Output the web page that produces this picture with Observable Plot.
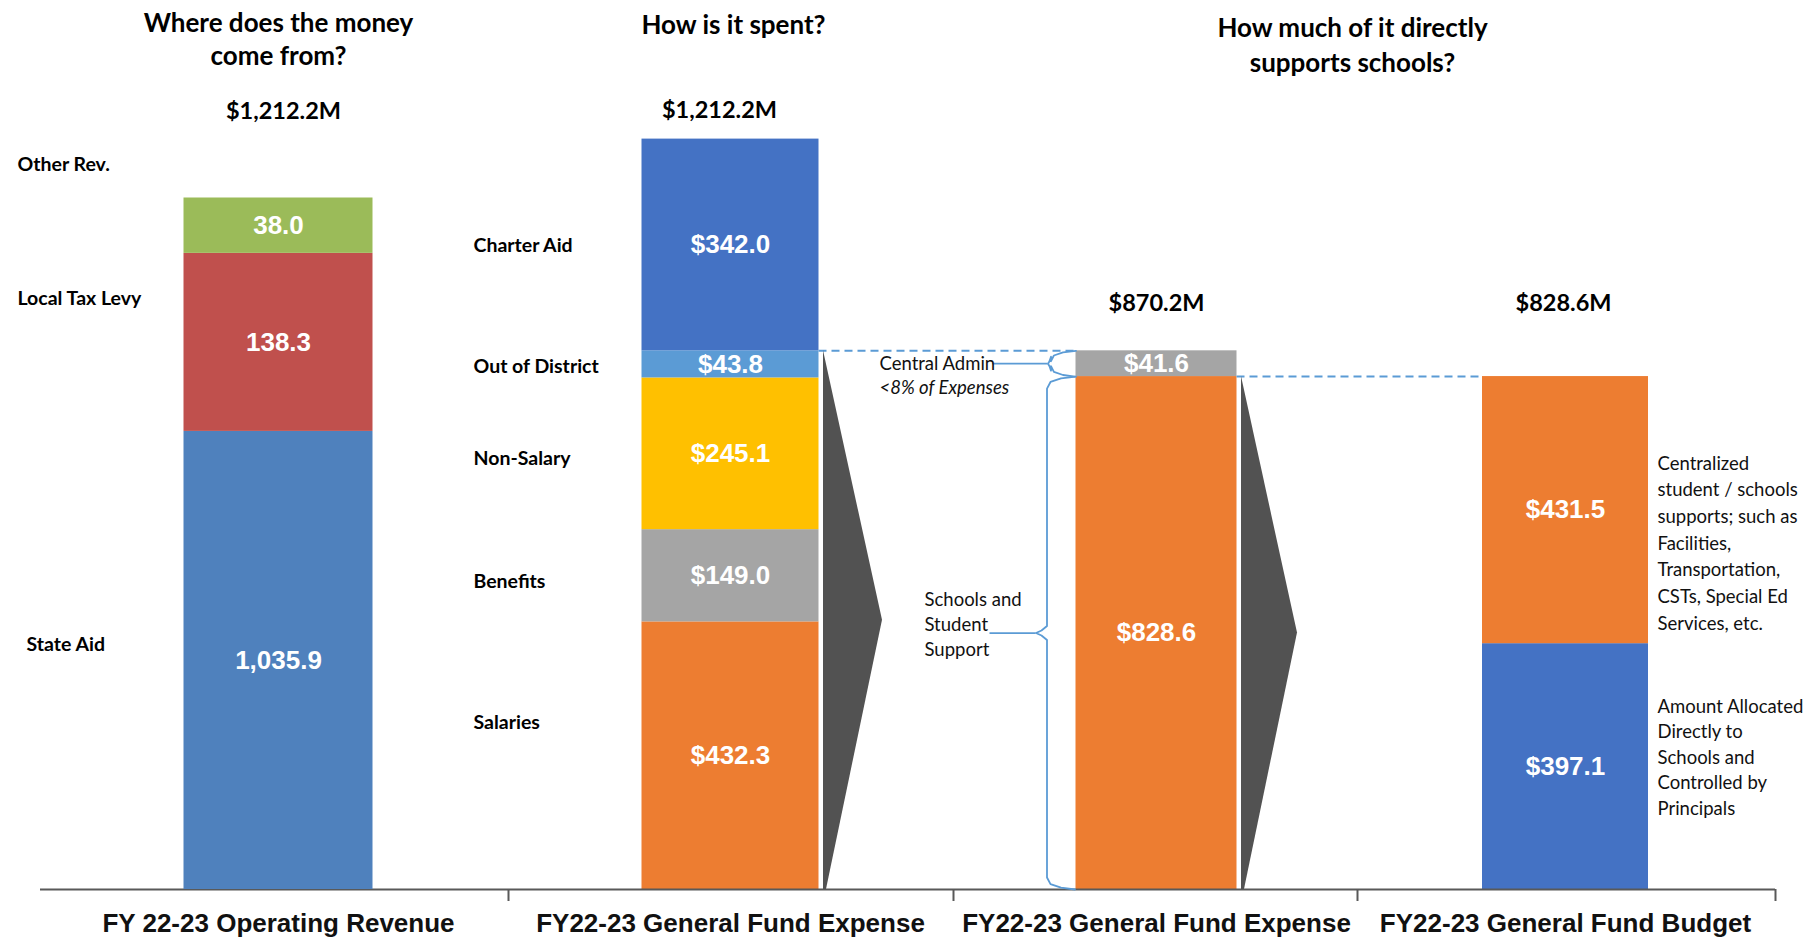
<!DOCTYPE html>
<html>
<head>
<meta charset="utf-8">
<script src="https://cdn.jsdelivr.net/npm/d3@7"></script>
<script src="https://cdn.jsdelivr.net/npm/@observablehq/plot@0.6"></script>
<style>
  html, body { margin: 0; padding: 0; background: #fff; }
  #chart { position: relative; width: 1811px; height: 937px; }
  #chart svg { position: absolute; left: 0; top: 0; overflow: visible; }
</style>
</head>
<body>
<div id="chart"></div>
<script>
// ---------------- DATA ----------------
const columnLabels = ["FY 22-23 Operating Revenue", "FY22-23 General Fund Expense", "FY22-23 General Fund Expense", "FY22-23 General Fund Budget"];
const questions = ["Where does the money\ncome from?", "How is it spent?", "How much of it directly\nsupports schools?"];

const revenueSources = ["State Aid", "Local Tax Levy", "Other Rev."];
const revenueValues = [1035.9, 138.3, 38.0];

const expenseCategories = ["Salaries", "Benefits", "Non-Salary", "Out of District", "Charter Aid"];
const expenseValues = [432.3, 149.0, 245.1, 43.8, 342.0];

const generalFundParts = ["Schools and Student Support", "Central Admin"];
const generalFundValues = [828.6, 41.6];

const budgetParts = ["Allocated Directly to Schools", "Centralized Supports"];
const budgetValues = [397.1, 431.5];

const centralAdminNote = ["Central Admin", "<8% of Expenses"];
const schoolsNote = "Schools and\nStudent\nSupport";
const budgetNotes = [
  "Amount Allocated\nDirectly to\nSchools and\nControlled by\nPrincipals",
  "Centralized\nstudent / schools\nsupports; such as\nFacilities,\nTransportation,\nCSTs, Special Ed\nServices, etc."
];

// ---------------- STYLE ----------------
const revenueColors = ["#4f81bd", "#c0504d", "#9bbb59"];
const expenseColors = ["#ed7d31", "#a5a5a5", "#ffc000", "#5b9bd5", "#4472c4"];
const generalFundColors = ["#ed7d31", "#a5a5a5"];
const budgetColors = ["#4472c4", "#ed7d31"];
const TITLE_FONT = "Lato, 'Open Sans', sans-serif";
const VALUE_FONT = "'Liberation Sans', Arial, sans-serif";
const BRACE = "#5b9bd5";

// ---------------- LAYOUT ----------------
const W = 1811, H = 937;
const STEP = 429, X0 = 278;
const colShiftPx = [0, 23, 20, 0];
const barWidthPx = [189, 177, 161, 166];
const BASE = 889, TOP = 138.6, REV_TOP = 197.5, REV_EXPONENT = 2.62;
const revenueLabelDy = [-16, -44, -61];
const expenseLabelDy = [-33, 6, 5, 2, 1];
const titleDy = [37, 25, 43];
const totalDy = [111, 110, 303, 303];

const fmtRev = d3.format(",.1f");
const fmtUsd = v => "$" + d3.format(",.1f")(v);
const totals = [d3.sum(revenueValues), d3.sum(expenseValues), d3.sum(generalFundValues), d3.sum(budgetValues)];
const unitPx = (BASE - TOP) / totals[1];
const yLen = px => px / unitPx;
const xAt = (col, px = 0) => col + (colShiftPx[col] + px) / STEP;
const leftEdge = c => xAt(c, -barWidthPx[c] / 2);
const rightEdge = c => xAt(c, barWidthPx[c] / 2);

// midpoint in screen space for a segment drawn on a pow scale (exponent k = 1 for linear)
function screenMid(y1, y2, total, k) {
  return total * Math.pow((Math.pow(y1 / total, k) + Math.pow(y2 / total, k)) / 2, 1 / k);
}
function stack(col, names, values, colors, fmt, k = 1) {
  let acc = 0;
  const total = d3.sum(values);
  return names.map((name, j) => {
    const y1 = acc; acc += values[j];
    return {col, name, value: values[j], y1, y2: acc, mid: screenMid(y1, acc, total, k), fill: colors[j],
            label: fmt(values[j]), x1: leftEdge(col), x2: rightEdge(col), xc: xAt(col)};
  });
}
const revRows = stack(0, revenueSources, revenueValues, revenueColors, fmtRev, REV_EXPONENT);
const expRows = stack(1, expenseCategories, expenseValues, expenseColors, fmtUsd);
const gfRows = stack(2, generalFundParts, generalFundValues, generalFundColors, fmtUsd);
const budRows = stack(3, budgetParts, budgetValues, budgetColors, fmtUsd);
const spendRows = [...expRows, ...gfRows, ...budRows];

const xScale = {domain: [-0.5, 3.5], range: [X0 - STEP / 2, X0 + 3.5 * STEP], axis: null};
const common = {
  width: W, height: H, marginTop: 0, marginRight: 0, marginBottom: 0, marginLeft: 0,
  x: xScale, color: {type: "identity"},
  style: {background: "none", overflow: "visible"}
};

// chevrons
function chevron(col, top, depthPx) {
  const L = rightEdge(col) + 4.5 / STEP;
  return [
    {y: 0, x1: L, x2: L + 3 / STEP},
    {y: top / 2, x1: L, x2: rightEdge(col) + depthPx / STEP},
    {y: top, x1: L, x2: L}
  ];
}
// braces: pts in [dxPx from bar-3 left edge, value, dyPx downward]
function brace(top, bot, vx, tipx, curl) {
  const tip = (top + bot) / 2;
  const L = leftEdge(2);
  const pts = [
    [0, top, 0], [-curl * 0.5, top, curl * 0.06], [-curl * 0.85, top, curl * 0.18], [vx, top, curl * 0.4],
    [vx, tip, -7], [(vx + tipx) / 2, tip, -2.5], [tipx, tip, 0], [(vx + tipx) / 2, tip, 2.5], [vx, tip, 7],
    [vx, bot, -curl * 0.4], [-curl * 0.85, bot, -curl * 0.18], [-curl * 0.5, bot, -curl * 0.06], [-1, bot, 0]
  ];
  return pts.map(([dx, v, dy]) => ({x: L + dx / STEP, y: v - yLen(dy)}));
}
const gfTotal = totals[2], budTotal = totals[3];
const schoolsMid = generalFundValues[0] / 2;
const adminMid = generalFundValues[0] + generalFundValues[1] / 2;

const colPositions = [0, 1, 2, 3].map(c => ({c, x: xAt(c), label: columnLabels[c], total: totals[c]}));
const titleFont = {fontSize: 26, fontWeight: "bold", fontFamily: TITLE_FONT, fill: "#000", frameAnchor: "top", lineAnchor: "middle"};

const mainMarks = [
  Plot.rect(spendRows, {x1: "x1", x2: "x2", y1: "y1", y2: "y2", fill: "fill"}),
  Plot.text(spendRows, {x: "xc", y: "mid", text: "label", fill: "white", fontSize: 26, fontWeight: "bold", fontFamily: VALUE_FONT}),
  ...expRows.map((r, j) => Plot.text([r], {x: () => xAt(1, -257), y: "mid", text: "name", textAnchor: "start", dy: expenseLabelDy[j],
     fontSize: 19.5, fontWeight: "bold", fontFamily: TITLE_FONT, fill: "#000"})),
  // titles
  Plot.text([questions[0]], {x: () => xAt(0), text: d => d, dy: titleDy[0], lineHeight: 1.27, ...titleFont}),
  Plot.text([questions[1]], {x: () => xAt(1, 3), text: d => d, dy: titleDy[1], ...titleFont}),
  Plot.text([questions[2]], {x: () => xAt(2, 196), text: d => d, dy: titleDy[2], lineHeight: 1.33, ...titleFont}),
  // totals
  ...colPositions.map(p => Plot.text([p], {x: d => d.x + [5, -11, 0, -2][d.c] / STEP, text: d => "$" + d3.format(",.1f")(d.total) + "M",
     dy: totalDy[p.c], ...titleFont, fontSize: 23.5})),
  // baseline segments
  Plot.ruleY([[40, 508], [508, 953], [953, 1357], [1357, 1775]], {x1: d => (d[0] - X0) / STEP, x2: d => (d[1] - X0) / STEP, y: () => 0, stroke: "#595959", strokeWidth: 2}),
  Plot.ruleX([508, 953, 1357, 1775], {x: d => (d - X0) / STEP, y1: () => 0, y2: () => -yLen(12), stroke: "#595959", strokeWidth: 2}),
  // bottom labels
  Plot.text(colPositions, {x: "x", y: () => 0, dy: 34, text: "label", fontSize: 26, fontWeight: "bold", fontFamily: VALUE_FONT, fill: "#111"}),
  // dashed connectors
  Plot.ruleY([{y: gfTotal, x1: rightEdge(1), x2: leftEdge(2)}, {y: budTotal, x1: rightEdge(2), x2: leftEdge(3)}],
    {y: "y", x1: "x1", x2: "x2", stroke: BRACE, strokeWidth: 2, strokeDasharray: "8,5"}),
  // chevrons
  Plot.areaX(chevron(1, gfTotal, 63.5), {y: "y", x1: "x1", x2: "x2", fill: "#525252"}),
  Plot.areaX(chevron(2, budTotal, 60.5), {y: "y", x1: "x1", x2: "x2", fill: "#525252"}),
  // braces
  Plot.line(brace(gfTotal, generalFundValues[0], -25, -28, 26), {x: "x", y: "y", stroke: BRACE, strokeWidth: 1.8}),
  Plot.line(brace(generalFundValues[0], 0, -29, -40, 30), {x: "x", y: "y", stroke: BRACE, strokeWidth: 1.8}),
  Plot.ruleY([adminMid], {x1: () => leftEdge(2) - 83 / STEP, x2: () => leftEdge(2) - 28 / STEP, stroke: BRACE, strokeWidth: 1.8}),
  Plot.ruleY([schoolsMid], {x1: () => leftEdge(2) - 86 / STEP, x2: () => leftEdge(2) - 40 / STEP, stroke: BRACE, strokeWidth: 1.8}),
  // notes
  Plot.text([centralAdminNote[0]], {x: () => leftEdge(2) - 196.5 / STEP, y: () => adminMid, text: d => d, textAnchor: "start", fontSize: 18.5, fontFamily: TITLE_FONT, fill: "#111"}),
  Plot.text([centralAdminNote[1]], {x: () => leftEdge(2) - 196.5 / STEP, y: () => adminMid, dy: 24, text: d => d, textAnchor: "start", fontSize: 18.5, fontStyle: "italic", fontFamily: TITLE_FONT, fill: "#111"}),
  Plot.text([schoolsNote], {x: () => leftEdge(2) - 151.5 / STEP, y: () => schoolsMid, dy: -10, text: d => d, textAnchor: "start", lineHeight: 1.33, fontSize: 18.5, fontFamily: TITLE_FONT, fill: "#111"}),
  Plot.text([budRows[1]], {x: () => rightEdge(3) + 9 / STEP, y: "mid", dy: 31, text: () => budgetNotes[1], textAnchor: "start", lineHeight: 1.44, fontSize: 18.5, fontFamily: TITLE_FONT, fill: "#111"}),
  Plot.text([budRows[0]], {x: () => rightEdge(3) + 9 / STEP, y: "mid", dy: -11, text: () => budgetNotes[0], textAnchor: "start", lineHeight: 1.38, fontSize: 18.5, fontFamily: TITLE_FONT, fill: "#111"})
];

const mainPlot = Plot.plot({
  ...common,
  y: {type: "linear", domain: [0, totals[1]], range: [BASE, TOP], axis: null},
  marks: mainMarks
});

// revenue column drawn on its own (non-proportional, as in the original slide) scale
const revPlot = Plot.plot({
  ...common,
  y: {type: "pow", exponent: REV_EXPONENT, domain: [0, totals[0]], range: [BASE, REV_TOP], axis: null},
  marks: [
    Plot.rect(revRows, {x1: "x1", x2: "x2", y1: "y1", y2: "y2", fill: "fill"}),
    Plot.text(revRows, {x: "xc", y: "mid", text: "label", fill: "white", fontSize: 26, fontWeight: "bold", fontFamily: VALUE_FONT}),
    ...revRows.map((r, j) => Plot.text([r], {x: () => xAt(0, j === 0 ? -252 : -261), y: "mid", dy: revenueLabelDy[j], text: "name", textAnchor: "start",
      fontSize: 19.5, fontWeight: "bold", fontFamily: TITLE_FONT, fill: "#000"}))
  ]
});
revPlot.style.pointerEvents = "none";

const chart = document.getElementById("chart");
chart.appendChild(mainPlot);
chart.appendChild(revPlot);
</script>
</body>
</html>
